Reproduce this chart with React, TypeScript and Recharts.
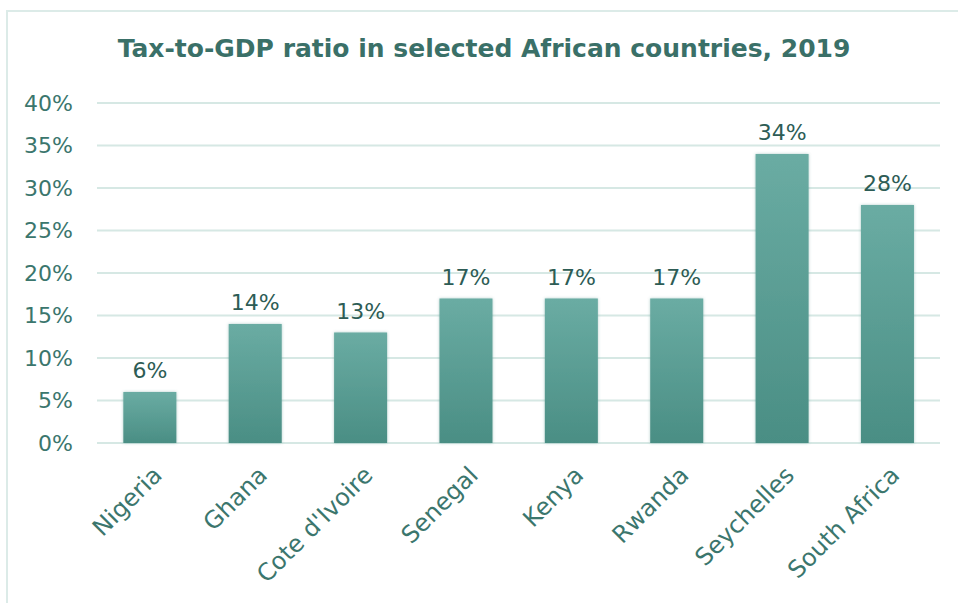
import { BarChart, Bar, XAxis, YAxis, CartesianGrid, LabelList } from 'recharts'

const countries = ['Nigeria', 'Ghana', "Cote d'Ivoire", 'Senegal', 'Kenya', 'Rwanda', 'Seychelles', 'South Africa']
const taxToGdp = [6, 14, 13, 17, 17, 17, 34, 28]
const yTicks = [0, 5, 10, 15, 20, 25, 30, 35, 40]

const data = countries.map((country, i) => ({ country, ratio: taxToGdp[i] }))

const FONT = '"DejaVu Sans", sans-serif'
const TEAL = '#3b766d'

function CountryTick({ x, y, payload }: any) {
  return (
    <text
      x={x + 8}
      y={y + 20}
      textAnchor="end"
      transform={`rotate(-45, ${x + 8}, ${y + 20})`}
      fill={TEAL}
      fontSize={24}
      fontFamily={FONT}
      dominantBaseline="central"
    >
      {payload.value}
    </text>
  )
}

export default function App() {
  return (
    <div style={{ position: 'absolute', left: 0, top: 0, width: 958, height: 603, background: '#fff' }}>
      <div
        style={{
          position: 'absolute',
          left: 6,
          top: 10,
          right: 0,
          bottom: 0,
          borderTop: '2px solid #dcebe8',
          borderLeft: '2px solid #dcebe8',
        }}
      />
      <div
        style={{
          position: 'absolute',
          top: 34,
          left: 0,
          width: 968,
          textAlign: 'center',
          fontFamily: FONT,
          fontWeight: 'bold',
          fontSize: 25,
          color: '#3a7068',
        }}
      >
        Tax-to-GDP ratio in selected African countries, 2019
      </div>
      <BarChart
        width={958}
        height={603}
        data={data}
        margin={{ top: 103, right: 18, bottom: 10, left: 0 }}
        barCategoryGap="25%"
        style={{ position: 'absolute', left: 0, top: 0 }}
      >
        <defs>
          <linearGradient id="barFill" x1="0" y1="0" x2="0" y2="1">
            <stop offset="0%" stopColor="#6aaca3" />
            <stop offset="100%" stopColor="#4a8e84" />
          </linearGradient>
          <filter id="barGlow" x="-20%" y="-20%" width="140%" height="140%">
            <feDropShadow dx="0" dy="0" stdDeviation="1.6" floodColor="#4a8e84" floodOpacity="0.45" />
          </filter>
        </defs>
        <CartesianGrid vertical={false} stroke="#d6e8e4" strokeWidth={2} />
        <XAxis
          dataKey="country"
          axisLine={false}
          tickLine={false}
          interval={0}
          height={150}
          tick={<CountryTick />}
        />
        <YAxis
          domain={[0, 40]}
          ticks={yTicks}
          width={97}
          axisLine={false}
          tickLine={false}
          tickMargin={18}
          tickFormatter={(v: number) => `${v}%`}
          tick={{ fill: TEAL, fontSize: 22, fontFamily: FONT }}
        />
        <Bar dataKey="ratio" fill="url(#barFill)" filter="url(#barGlow)" isAnimationActive={false}>
          <LabelList
            dataKey="ratio"
            position="top"
            offset={14}
            formatter={(v: any) => `${v}%`}
            fill="#2d5c55"
            fontSize={22}
            fontFamily={FONT}
          />
        </Bar>
      </BarChart>
    </div>
  )
}
